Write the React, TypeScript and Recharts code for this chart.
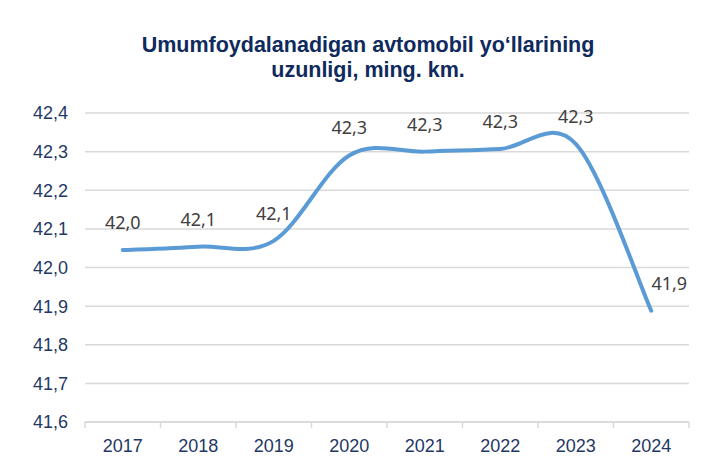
import React from 'react';
import { LineChart, Line, XAxis, YAxis, CartesianGrid, LabelList } from 'recharts';

const years = ['2017', '2018', '2019', '2020', '2021', '2022', '2023', '2024'];
const lengths = [42.045, 42.054, 42.069, 42.29, 42.3, 42.307, 42.32, 41.888];
const yTicks = [41.6, 41.7, 41.8, 41.9, 42.0, 42.1, 42.2, 42.3, 42.4];

const data = years.map((year, i) => ({ year, value: lengths[i] }));

const W = 716;
const H = 465;
const M = { top: 113, right: 27, left: 0, bottom: 13 };
const Y_W = 85;
const band = (W - Y_W - M.right) / years.length;

const fmt = (v: number) => v.toFixed(1).replace('.', ',');

// Excel-like smoothing (Catmull-Rom via bezier)
function excelCurve(context: any) {
  let pts: number[][] = [];
  return {
    areaStart() {},
    areaEnd() {},
    lineStart() {
      pts = [];
    },
    lineEnd() {
      if (!pts.length) return;
      context.moveTo(pts[0][0], pts[0][1]);
      for (let i = 0; i < pts.length - 1; i++) {
        const p0 = pts[i - 1] || pts[i];
        const p1 = pts[i];
        const p2 = pts[i + 1];
        const p3 = pts[i + 2] || p2;
        context.bezierCurveTo(
          p1[0] + (p2[0] - p0[0]) / 6,
          p1[1] + (p2[1] - p0[1]) / 6,
          p2[0] - (p3[0] - p1[0]) / 6,
          p2[1] - (p3[1] - p1[1]) / 6,
          p2[0],
          p2[1]
        );
      }
    },
    point(x: number, y: number) {
      pts.push([+x, +y]);
    },
  };
}

const XTick = (props: any) => {
  const { x, y, payload, index } = props;
  const last = index === years.length - 1;
  return (
    <g>
      <line x1={x - band / 2} x2={x - band / 2} y1={y} y2={y + 6} stroke="#D9D9D9" strokeWidth={1.5} />
      {last && <line x1={x + band / 2} x2={x + band / 2} y1={y} y2={y + 6} stroke="#D9D9D9" strokeWidth={1.5} />}
      <text x={x} y={y + 30} textAnchor="middle" fill="#1F3864" fontSize={18} fontFamily="'Liberation Sans', Arial, sans-serif">
        {payload.value}
      </text>
    </g>
  );
};

const ValueLabel = (props: any) => {
  const { x, y, value, index } = props;
  const dx = index === years.length - 1 ? 18 : 0;
  return (
    <text x={x + dx} y={y - 21} textAnchor="middle" fill="#404040" fontSize={18} fontFamily="'Noto Sans', sans-serif">
      {fmt(value)}
    </text>
  );
};

export default function App() {
  return (
    <div style={{ position: 'absolute', left: 0, top: 0, width: W, height: H, background: '#fff' }}>
      <div
        style={{
          position: 'absolute',
          left: 0,
          top: 33,
          width: 736,
          textAlign: 'center',
          fontFamily: "'Liberation Sans', Arial, sans-serif",
          fontWeight: 'bold',
          fontSize: 21.5,
          lineHeight: '25px',
          color: '#0F2A5C',
        }}
      >
        Umumfoydalanadigan avtomobil yo‘llarining
        <br />
        uzunligi, ming. km.
      </div>
      <LineChart width={W} height={H} data={data} margin={M}>
        <CartesianGrid vertical={false} stroke="#D9D9D9" strokeWidth={1.5} />
        <XAxis
          dataKey="year"
          height={30}
          padding={{ left: band / 2, right: band / 2 }}
          axisLine={{ stroke: '#D9D9D9', strokeWidth: 1.5 }}
          tickLine={false}
          tickSize={0}
          tickMargin={0}
          tick={<XTick />}
          interval={0}
        />
        <YAxis
          width={Y_W}
          domain={[41.6, 42.4]}
          ticks={yTicks}
          tickFormatter={fmt}
          axisLine={false}
          tickLine={false}
          tickSize={0}
          tickMargin={17}
          tick={{ fill: '#1F3864', fontSize: 18, fontFamily: "'Liberation Sans', Arial, sans-serif" }}
          interval={0}
        />
        <Line
          dataKey="value"
          type={excelCurve as any}
          stroke="#5B9BD5"
          strokeWidth={4}
          strokeLinecap="round"
          dot={false}
          isAnimationActive={false}
        >
          <LabelList dataKey="value" content={<ValueLabel />} />
        </Line>
      </LineChart>
    </div>
  );
}
